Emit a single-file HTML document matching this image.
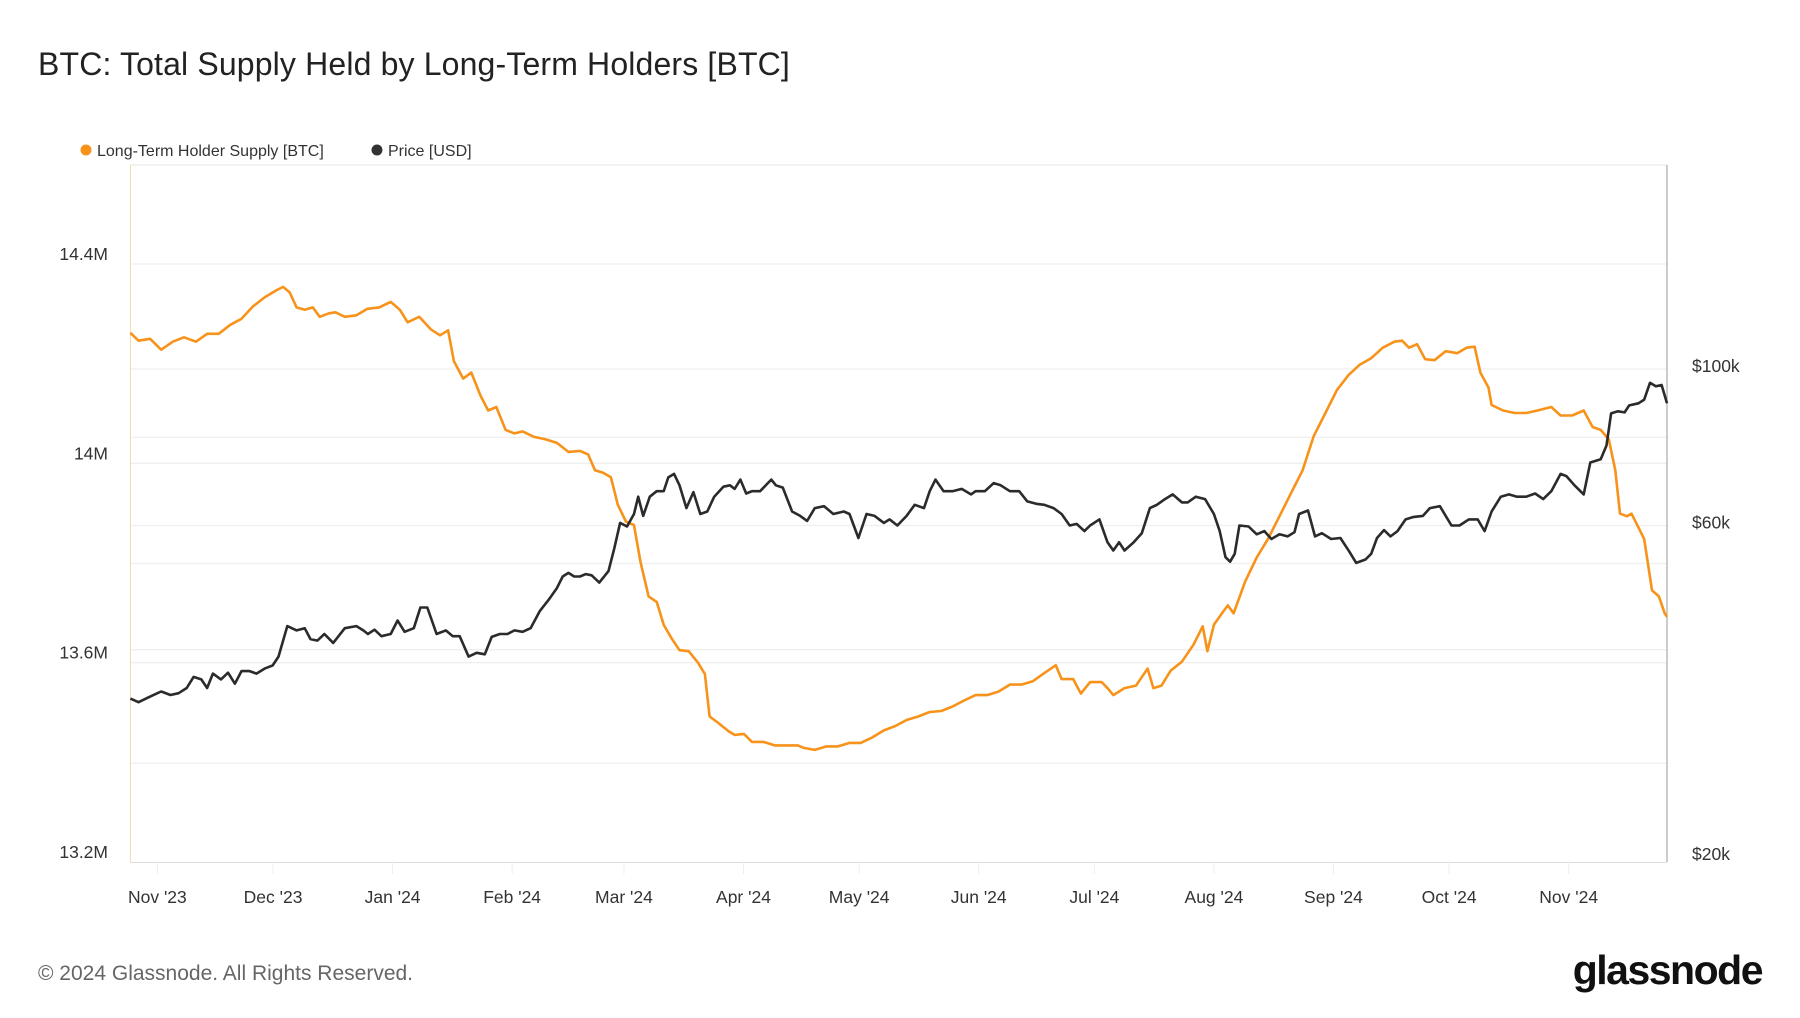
<!DOCTYPE html>
<html><head><meta charset="utf-8"><style>
body{margin:0;background:#fff;width:1800px;height:1013px;overflow:hidden;font-family:"Liberation Sans",sans-serif;}
</style></head><body>
<svg id="chart" width="1800" height="1013" xmlns="http://www.w3.org/2000/svg" font-family="Liberation Sans, sans-serif">
<text x="38" y="75" font-size="32" letter-spacing="0.15" fill="#222">BTC: Total Supply Held by Long-Term Holders [BTC]</text>
<g>
<circle cx="86" cy="150" r="5.5" fill="#f7931a"/>
<text x="97" y="156" font-size="16" fill="#333">Long-Term Holder Supply [BTC]</text>
<circle cx="377" cy="150" r="5.5" fill="#333"/>
<text x="388" y="156" font-size="16" fill="#333">Price [USD]</text>
</g>
<g id="grid"></g>
<line x1="130" y1="165" x2="1667" y2="165" stroke="#e6e6e6"/>
<line x1="130.5" y1="165" x2="130.5" y2="862" stroke="#fbd9b0"/>
<line x1="1667" y1="165" x2="1667" y2="862" stroke="#999"/>
<line x1="130" y1="862.5" x2="1667" y2="862.5" stroke="#ddd"/>
<g id="axes"></g>
<path id="supplyLine" fill="none" stroke="#f7931a" stroke-width="2.6" stroke-linejoin="round"/>
<path id="priceLine" fill="none" stroke="#2b2b2b" stroke-width="2.6" stroke-linejoin="round"/>
<text x="38" y="980" font-size="21" fill="#666">© 2024 Glassnode. All Rights Reserved.</text>
<text x="1762" y="984" font-size="41" font-weight="bold" fill="#111" text-anchor="end" letter-spacing="-1.5">glassnode</text>
</svg>
<script>
const monthLabels=["Nov '23","Dec '23","Jan '24","Feb '24","Mar '24","Apr '24","May '24","Jun '24","Jul '24","Aug '24","Sep '24","Oct '24","Nov '24"];
const monthDays=[7,37,68,99,128,159,189,220,250,281,312,342,373];
const supplyTicks=[14.4,14.0,13.6,13.2];
const supplyTickLabels=["14.4M","14M","13.6M","13.2M"];
const priceTicks=[100,60,20];
const priceTickLabels=["$100k","$60k","$20k"];
const priceGrid=[100,80,60,53,40,27.6];
const supplyDays=[0,2.1,5.1,8.0,11.0,13.9,17.0,19.9,22.9,25.9,28.8,31.8,34.8,37.8,39.6,41.3,43.1,45.2,47.3,49.1,51.5,53.2,55.6,58.6,61.5,64.5,67.5,69.9,71.9,74.9,77.9,80.3,82.4,83.9,86.3,88.4,90.8,92.8,94.9,97.3,99.6,101.7,104.7,107.7,110.6,113.6,116.6,118.7,120.5,122.6,124.6,126.4,128.5,130.6,132.3,134.4,136.5,138.3,140.4,142.4,144.8,147.2,149.0,150.2,152.3,155.2,156.7,159.1,161.2,164.2,167.1,170.1,173.1,174.6,177.5,180.5,183.5,186.5,189.4,192.4,195.4,198.4,201.3,204.3,207.3,210.3,213.2,216.2,219.2,222.2,225.1,228.1,231.1,234.1,237.0,240.0,241.5,244.5,246.5,248.9,251.9,253.4,254.9,257.8,260.8,263.8,265.3,267.4,269.8,272.7,275.7,278.1,279.3,281.0,283.1,284.6,286.1,289.1,292.1,295.0,298.0,301.0,304.0,306.9,309.9,312.9,315.9,318.8,321.8,324.8,327.8,329.8,331.6,333.7,335.8,338.2,341.1,344.1,346.5,348.6,350.1,352.2,353.0,356.0,359.0,362.0,364.9,368.5,370.9,373.9,376.9,379.2,381.3,383.4,385.1,386.3,388.1,389.3,391.1,392.6,394.6,396.4,397.9,398.5];
const supplyValues=[14.262,14.246,14.250,14.228,14.244,14.253,14.244,14.260,14.260,14.278,14.290,14.315,14.333,14.347,14.354,14.343,14.313,14.308,14.313,14.294,14.301,14.303,14.294,14.297,14.310,14.313,14.324,14.308,14.283,14.294,14.269,14.257,14.267,14.205,14.170,14.182,14.136,14.106,14.113,14.067,14.060,14.064,14.053,14.048,14.041,14.023,14.025,14.018,13.986,13.981,13.972,13.917,13.883,13.876,13.802,13.733,13.722,13.676,13.648,13.625,13.623,13.600,13.577,13.492,13.480,13.462,13.455,13.457,13.441,13.441,13.434,13.434,13.434,13.429,13.425,13.432,13.432,13.439,13.439,13.450,13.464,13.473,13.485,13.492,13.501,13.503,13.512,13.524,13.535,13.535,13.542,13.556,13.556,13.563,13.579,13.595,13.567,13.567,13.538,13.561,13.561,13.549,13.535,13.549,13.554,13.588,13.549,13.554,13.584,13.602,13.636,13.673,13.623,13.676,13.699,13.715,13.699,13.763,13.811,13.848,13.894,13.940,13.986,14.055,14.101,14.147,14.177,14.198,14.211,14.232,14.244,14.246,14.232,14.239,14.209,14.207,14.225,14.221,14.232,14.234,14.182,14.152,14.117,14.106,14.101,14.101,14.106,14.113,14.096,14.096,14.106,14.073,14.067,14.048,13.986,13.899,13.894,13.899,13.871,13.848,13.745,13.733,13.699,13.692];
const priceDays=[0,2.1,4.5,6.5,8.0,10.4,12.5,14.6,16.4,18.4,19.9,21.4,23.5,25.3,27.1,28.8,30.9,32.7,34.8,36.9,38.4,40.7,43.1,45.2,46.7,48.5,50.3,52.6,55.6,58.6,60.4,61.6,63.3,65.1,67.5,69.3,71.1,73.5,75.2,77.0,79.4,81.8,83.6,85.4,87.7,89.8,91.9,93.7,95.8,97.8,99.6,101.7,103.8,106.2,108.5,110.6,112.1,113.6,115.1,116.6,118.1,119.6,121.6,124.0,125.5,127.0,128.8,130.6,131.7,133.0,134.7,136.5,138.3,139.5,141.0,142.4,144.2,146.0,147.8,149.6,151.4,153.8,155.5,156.7,158.2,159.7,161.2,163.3,165.1,166.2,167.4,169.2,171.6,173.7,175.5,177.5,179.9,182.3,185.0,186.5,188.8,190.9,193.0,195.4,196.9,198.9,201.3,203.4,205.8,207.3,208.8,210.9,213.2,215.6,218.0,219.2,221.6,223.9,225.7,228.1,230.5,232.6,234.9,237.0,239.4,241.5,243.6,245.4,247.4,248.9,251.3,253.4,254.9,256.4,257.8,260.2,262.3,264.4,266.2,268.3,270.3,272.7,274.2,276.3,278.7,281.0,282.5,284.0,285.2,286.4,287.6,290.0,292.1,294.1,295.9,298.0,300.1,301.9,303.1,305.4,307.2,309.0,311.4,313.8,316.1,317.9,320.3,321.8,323.3,325.1,326.8,328.6,330.7,332.8,335.2,337.0,339.6,341.1,342.6,344.7,347.1,349.4,351.2,353.0,355.4,357.5,359.6,362.0,364.3,366.4,368.5,370.9,372.4,374.5,376.9,378.6,381.3,382.8,384.0,385.8,387.5,388.7,391.1,392.6,394.1,395.6,397.1,398.5];
const priceValues=[34.1,33.7,34.2,34.6,34.9,34.5,34.7,35.3,36.6,36.3,35.3,37.0,36.3,37.1,35.8,37.3,37.3,37.0,37.6,38.0,39.1,43.2,42.6,42.9,41.4,41.2,42.1,40.9,42.9,43.2,42.6,42.1,42.7,41.8,42.1,44.0,42.4,42.9,45.9,45.9,42.1,42.6,41.8,41.8,39.1,39.6,39.4,41.7,42.1,42.1,42.6,42.4,42.9,45.4,47.1,48.9,50.8,51.4,50.8,50.8,51.2,51.0,49.8,51.7,55.7,60.5,59.8,62.3,65.9,61.9,65.9,67.1,67.1,70.2,71.0,68.4,63.5,66.9,62.3,62.8,65.9,68.1,68.4,67.6,69.7,66.6,67.1,67.1,68.7,69.7,68.4,67.9,62.8,61.9,60.9,63.5,63.9,62.3,62.8,62.3,57.6,62.3,61.9,60.5,61.2,60.0,61.9,64.2,63.5,67.1,69.7,67.1,67.1,67.6,66.4,67.1,67.1,68.9,68.4,67.1,67.1,64.9,64.4,64.2,63.5,62.3,60.0,60.3,58.9,60.0,61.2,56.8,55.3,56.8,55.3,56.8,58.5,63.5,64.2,65.4,66.4,64.7,64.7,65.9,65.4,62.3,58.9,54.1,53.3,54.7,60.0,59.8,58.3,58.9,57.4,58.3,57.9,58.7,62.3,63.0,57.9,58.5,57.4,57.6,55.1,53.1,53.7,54.7,57.6,59.1,57.9,58.9,61.2,61.7,61.9,63.5,63.9,61.9,60.0,60.0,61.2,61.2,58.9,62.8,65.9,66.4,65.9,65.9,66.6,65.4,67.1,71.0,70.5,68.4,66.4,73.7,74.5,77.9,86.5,87.1,86.8,88.8,89.4,90.5,95.6,94.5,94.9,89.4];

const NS='http://www.w3.org/2000/svg';
const L=130.4,R=1667,T=165,B=862,D0=0,D1=398.5;
function xScale(d){return L+(d-D0)/(D1-D0)*(R-L);}
function ySupply(v){return 264+(14.4-v)/1.2*(B-264);}
function yPrice(p){return B-Math.log(p/20)/Math.log(5)*(B-369);}
const grid=document.getElementById('grid'),axes=document.getElementById('axes');
function mk(tag,attrs,parent){const e=document.createElementNS(NS,tag);for(const k in attrs)e.setAttribute(k,attrs[k]);parent.appendChild(e);return e;}
supplyTicks.forEach((v,i)=>{const y=ySupply(v);
 if(i<3){const g=mk('line',{x1:L,x2:R,y1:y,y2:y,stroke:'#efefef','stroke-width':1.3},grid);
 
 }
 const t=mk('text',{x:108,y:y-4,'font-size':17.5,fill:'#333','text-anchor':'end'},axes);t.textContent=supplyTickLabels[i];
 
 });
priceGrid.forEach(v=>{const y=yPrice(v);const g=mk('line',{x1:L,x2:R,y1:y,y2:y,stroke:'#efefef','stroke-width':1.3},grid);
 
 });
priceTicks.forEach((v,i)=>{const y=yPrice(v);
 const t=mk('text',{x:1692,y:(v===20?y-2:y+3),'font-size':17.5,fill:'#333'},axes);t.textContent=priceTickLabels[i];
 
 });
monthDays.forEach((d,i)=>{const x=xScale(d);
 const l=mk('line',{x1:x,x2:x,y1:B,y2:B+12,stroke:'#eee'},axes);
 
 
 const t=mk('text',{x:x,y:903,'font-size':17.5,fill:'#333','text-anchor':'middle'},axes);t.textContent=monthLabels[i];
 
 });
document.getElementById('supplyLine').setAttribute('d',supplyDays.map((d,i)=>(i?'L':'M')+xScale(d).toFixed(1)+' '+ySupply(supplyValues[i]).toFixed(1)).join(''));
document.getElementById('priceLine').setAttribute('d',priceDays.map((d,i)=>(i?'L':'M')+xScale(d).toFixed(1)+' '+yPrice(priceValues[i]).toFixed(1)).join(''));
</script>
</body></html>
